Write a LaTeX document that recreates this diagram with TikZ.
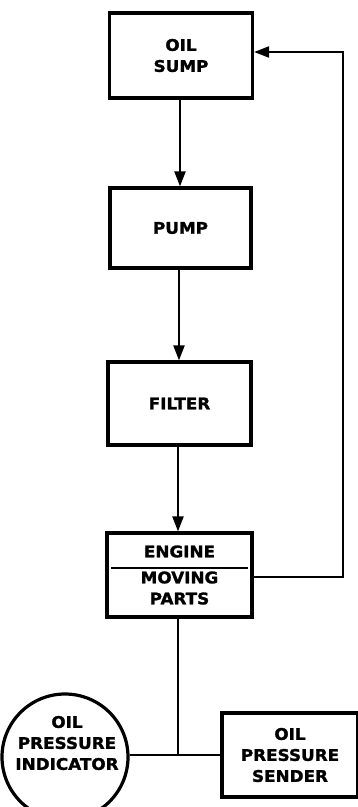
\documentclass[tikz,border=0pt]{standalone}
\usepackage{fontspec}
\usetikzlibrary{arrows.meta,calc}
\newfontfamily\labfont{DejaVu Sans Bold}[FakeStretch=1.05,FakeBold=1.5]
\begin{document}
\begin{tikzpicture}[x=1pt,y=-1pt,
  blk/.style={draw,line width=3.2pt,rectangle,align=center,inner sep=0pt},
  lab/.style={font=\labfont\fontsize{16}{21}\selectfont,align=center},
  conn/.style={line width=2.2pt},
  arr/.style={conn,-{Triangle[length=15pt,width=11pt]}},
  divline/.style={line width=2.4pt}]
\useasboundingbox (0,0) rectangle (358,807);
\node[blk,lab,minimum width=143pt,minimum height=85pt] (sump) at (181,55.5) {OIL\\SUMP};
\node[blk,lab,minimum width=141pt,minimum height=80pt] (pump) at (180.5,228) {PUMP};
\node[blk,lab,minimum width=143pt,minimum height=83pt] (filter) at (179.5,403.5) {FILTER};
\node[blk,lab,minimum width=145pt,minimum height=84pt] (engine) at (179.5,575) {ENGINE\\[5pt]MOVING\\PARTS};
\node[draw,circle,line width=3.2pt,minimum size=126pt,inner sep=0pt] (indicator) at (65,757) {};
\node[lab] (indtext) at ($(indicator.center)+(2,-14)$) {OIL\\PRESSURE\\INDICATOR};
\node[blk,lab,minimum width=136pt,minimum height=84pt] (sender) at (290,755) {OIL\\PRESSURE\\SENDER};
\draw[divline] ([xshift=6pt,yshift=7pt]engine.west) -- ([xshift=-6pt,yshift=7pt]engine.east);
\draw[arr] (sump.south -| 180,0) -- (pump.north -| 180,0);
\draw[arr] (pump.south -| 179,0) -- (filter.north -| 179,0);
\draw[arr] (filter.south -| 178,0) -- (engine.north -| 178,0);
\coordinate (rail) at (343,300);
\draw[arr] ([yshift=-2pt]engine.east) -| (rail) |- ([yshift=3.5pt]sump.east);
\coordinate (junction) at (178,755);
\draw[conn] (engine.south -| junction) -- (junction);
\draw[conn] (indicator.east |- junction) -- (sender.west |- junction);
\end{tikzpicture}
\end{document}
